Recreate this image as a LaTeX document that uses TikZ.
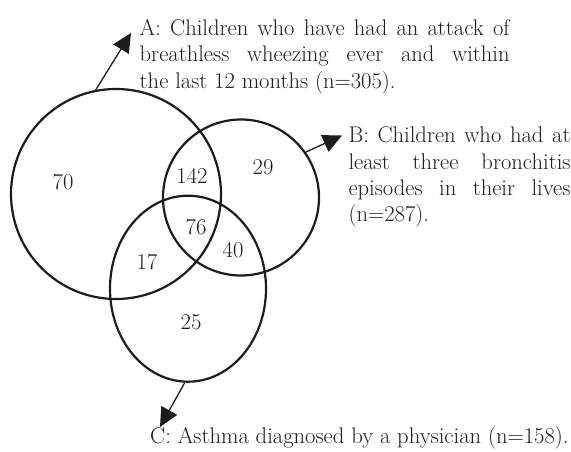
\documentclass[tikz,border=0pt]{standalone}
\usepackage{fontspec}
\usepackage{xcolor}
\usepackage{tikz}
\usetikzlibrary{shapes,arrows.meta,positioning}
\setmainfont{Latin Modern Roman}
\definecolor{setline}{RGB}{28,28,28}

\tikzset{
    setcircle/.style={draw=setline, line width=2.2pt, circle, inner sep=0pt},
    setellipse/.style={draw=setline, line width=2.2pt, ellipse, inner sep=0pt},
    count/.style={text=setline, inner sep=1pt},
    labeltext/.style={text=setline, inner sep=0pt, align=justify},
    pointer/.style={draw=setline, line width=1.3pt, -{Triangle[length=19pt,width=18pt]}}
}

\begin{document}
\begin{tikzpicture}[x=1pt, y=-1pt, font=\fontsize{22.6}{26.3}\selectfont]
        \useasboundingbox (0,0) rectangle (571,452);
        % the three sets
        \node[setcircle, minimum size=210pt] (setA) at (116,194) {};
        \node[setcircle, minimum size=156pt] (setB) at (241,197.5) {};
        \node[setellipse, minimum width=156pt, minimum height=186pt] (setC) at (188,288.7) {};
        % counts in each region
        \node[count] (onlyA) at (63,182) {70};
        \node[count] (onlyB) at (263,167) {29};
        \node[count] (onlyC) at (191,322) {25};
        \node[count] (AB) at (192,176) {142};
        \node[count] (ABC) at (196,227) {76};
        \node[count] (BC) at (233,250) {40};
        \node[count] (AC) at (147,262) {17};
        % set descriptions
        \node[labeltext, text width=370pt, anchor=north west] (labA) at (139.5,19.5) {A: Children who have had an attack of\linebreak breathless wheezing ever and within\linebreak the last 12 months (n=305).};
        \node[labeltext, text width=222pt, anchor=north west] (labB) at (348.3,127) {B: Children who had at\linebreak least three bronchitis\linebreak episodes in their lives\linebreak (n=287).};
        \node[labeltext, anchor=base west] (labC) at (150,443.3) {C: Asthma diagnosed by a physician (n=158).};
        % arrows
        \coordinate (tipA) at (131,33);
        \coordinate (tipB) at (342,135.5);
        \coordinate (tipC) at (160,427);
        \draw[pointer] (setA.101) -- (tipA);
        \draw[pointer] (setB.35) -- (tipB);
        \draw[pointer] (setC.268) -- (tipC);
\end{tikzpicture}
\end{document}
